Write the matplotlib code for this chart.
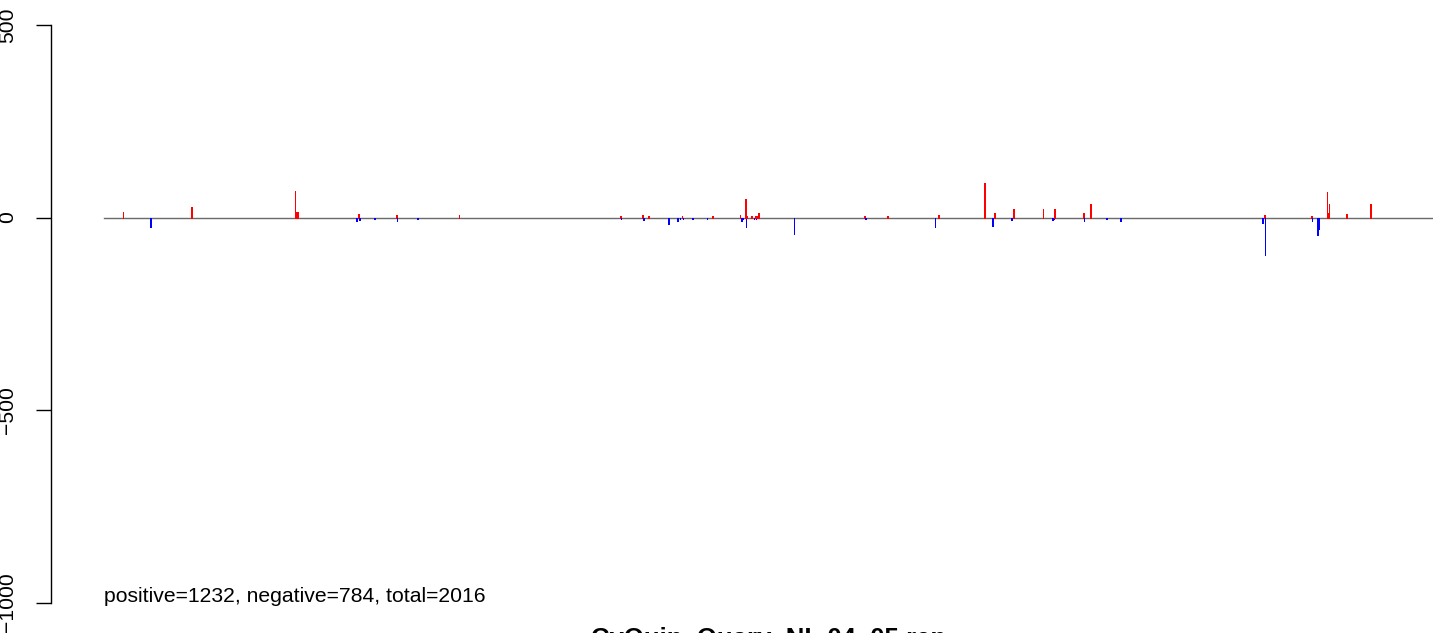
import numpy as np
import matplotlib
matplotlib.use('Agg')
import matplotlib.pyplot as plt

plt.rcParams['font.family'] = ['Liberation Sans', 'DejaVu Sans']

n_bars = 2016
n_pos = 1232
n_neg = 784
title = 'CyQuin_Quary_NL.04_05.rep'

# visible bars (index, value); every other bar is ~0
spike_idx = [28, 70, 132, 289, 290, 291, 292, 293, 383, 386, 387, 410, 443, 444,
             475, 538, 783, 784, 817, 818, 826, 856, 870, 874, 877, 878, 893,
             915, 922, 923, 924, 965, 966, 967, 969, 973, 974, 975, 982, 986,
             988, 989, 990, 993, 1047, 1154, 1155, 1189, 1261, 1266, 1336,
             1348, 1349, 1351, 1377, 1380, 1425, 1439, 1441, 1442, 1486, 1487,
             1497, 1521, 1542, 1758, 1761, 1762, 1832, 1833, 1841, 1842, 1843,
             1856, 1858, 1859, 1885, 1922]
spike_val = [14, -25, 27, 70, 13, 13, 12, 13, -8, 8, -7, -5, 6, -10,
             -5, 6, 3, -5, 7, -7, 4, -17, -10, -5, 4, -5, -5,
             -5, 4, 4, 4, 6, -6, -8, -4, 47, -25, 4, 4, -5,
             4, -5, 4, 11, -43, 4, -5, 3, -25, 6, 89,
             -22, -9, 11, -7, 21, 21, -7, -4, 21, 11, -9,
             34, -5, -9, -14, 6, -97, 3, -9, -45, -44, -30,
             67, 12, 34, 9, 34]

heights = np.zeros(n_bars)
heights[spike_idx] = spike_val
colors = np.where(heights >= 0, '#ff0000', '#0000ff')
lws = np.where(heights != 0, 0.7, 0.0)

# R barplot layout: width 1, space 0.2
lefts = 0.2 + 1.2 * np.arange(n_bars)
centers = lefts + 0.5
x0, x1 = lefts[0], lefts[-1] + 1
xpad = 0.04 * (x1 - x0)
ylo, yhi = -1000, 500
ypad = 0.04 * (yhi - ylo)

fig = plt.figure(figsize=(14.33, 6.33), dpi=100)
ax = fig.add_axes([51 / 1433, 7.4 / 633, 1434.3 / 1433, 623.7 / 633])

ax.plot([x0, x1], [0, 0], color='#6a6a6a', lw=1.0, zorder=1)
ax.bar(centers, heights, width=1, color=colors, edgecolor=colors,
       linewidth=lws, antialiased=False, zorder=2)

ax.set_xlim(x0 - xpad, x1 + xpad)
ax.set_ylim(ylo - ypad, yhi + ypad)

for s in ['top', 'right', 'bottom']:
    ax.spines[s].set_visible(False)
ax.spines['left'].set_bounds(ylo, yhi)
ax.spines['left'].set_linewidth(1)
ax.set_xticks([])
ax.set_yticks([-1000, -500, 0, 500])
ax.set_yticklabels(['\u22121000', '\u2212500', '0', '500'], rotation=90,
                   va='center', fontsize=15.2)
ax.tick_params(axis='y', length=10.5, width=1, pad=14)

ax.text(x0, -1000, 'positive=%d, negative=%d, total=%d' % (n_pos, n_neg, n_bars),
        ha='left', va='baseline', fontsize=15.2)
# title sits below the plot and is clipped by the figure edge, as in the source
ax.text(0.5, -0.003, title, transform=ax.transAxes, ha='center', va='top',
        fontsize=18.5, fontweight='bold')

fig.savefig('out.png', dpi=100)
